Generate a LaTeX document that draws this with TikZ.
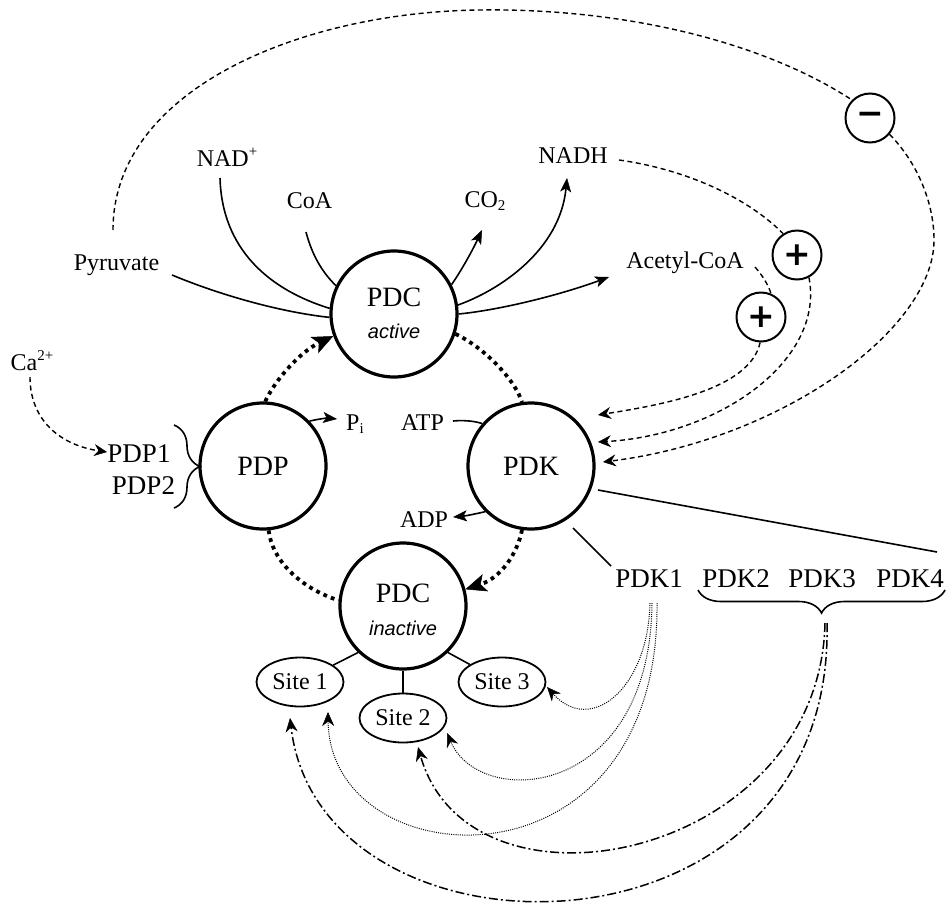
\documentclass[tikz,border=0pt]{standalone}
\usepackage{fontspec}
\setmainfont{Liberation Serif}
\newfontfamily\arialfont{Liberation Sans}
\newfontfamily\signfont{DejaVu Sans}
\usetikzlibrary{arrows.meta,calc,decorations.pathreplacing,shapes.geometric}
\newcommand\mysup[1]{\raisebox{10pt}{\fontsize{15}{15}\selectfont #1}}
\newcommand\mysub[1]{\raisebox{-3pt}{\fontsize{15}{15}\selectfont #1}}
\begin{document}
\begin{tikzpicture}[x=1pt,y=-1pt,
  lab/.style={font=\fontsize{24}{28}\selectfont, inner sep=0pt, anchor=base},
  big/.style={font=\fontsize{27}{30}\selectfont, inner sep=0pt, anchor=base},
  ctext/.style={font=\fontsize{28}{30}\selectfont, inner sep=0pt, anchor=base},
  itx/.style={font=\arialfont\itshape\fontsize{20}{24}\selectfont, inner sep=0pt, anchor=base},
  enz/.style={circle, draw, line width=3.2pt, minimum size=126pt, inner sep=0pt, font=\fontsize{28}{30}\selectfont},
  site/.style={ellipse, draw, line width=1.8pt, minimum width=87pt, minimum height=49pt, inner sep=0pt, font=\fontsize{24}{28}\selectfont},
  sign/.style={circle, draw, line width=2pt, minimum size=49pt, inner sep=0pt, font=\signfont\bfseries\fontsize{33}{33}\selectfont},
  conn/.style={line width=1.6pt},
  dsh/.style={line width=1.4pt, dash pattern=on 5pt off 3.5pt},
  thickdot/.style={line width=3.8pt, dash pattern=on 3.8pt off 4.2pt},
  fine/.style={line width=1pt, dash pattern=on 1pt off 1.2pt},
  dashdot/.style={line width=1.5pt, dash pattern=on 9pt off 3pt on 2pt off 3pt},
  stip/.style={-{Stealth[length=14pt, width=11pt, inset=3.5pt, line width=0.5pt]}},
  dtip/.style={-{Stealth[length=13pt, width=12pt, inset=4.5pt, line width=0.5pt]}},
  bigtip/.style={-{Stealth[length=21pt, width=18pt, inset=5pt, line width=0.5pt]}},
  sitetip/.style={-{Stealth[length=14pt, width=12pt, inset=4.5pt, line width=0.5pt]}}
]
\useasboundingbox (0,0) rectangle (952,905);

% enzymes / complexes
\node[enz] (pdca) at (394,314) {};
\node[ctext] (pdcat) at (394,306) {PDC};
\node[itx] (act) at (394,338) {active};
\node[enz] (pdp) at (263,466) {PDP};
\node[enz] (pdk) at (531,466) {PDK};
\node[enz] (pdci) at (403,606) {};
\node[ctext] (pdcit) at (403,602) {PDC};
\node[itx] (inact) at (403,635) {inactive};

% sites
\node[site] (site1) at (300,682) {Site 1};
\node[site] (site2) at (403,718) {Site 2};
\node[site] (site3) at (502,682) {Site 3};

% effector signs
\node[sign] (plus1) at (797,255) {+};
\node[sign] (plus2) at (761,317) {+};
\node[sign] (minus) at (870,118) {−};

% labels
\node[lab] (pyr) at (116.5,270) {Pyruvate};
\node[lab] (nad) at (227,166) {NAD\mysup{+}};
\node[lab] (coa) at (309.5,208) {CoA};
\node[lab] (co2) at (485,207) {CO\mysub{2}};
\node[lab] (nadh) at (573,163) {NADH};
\node[lab] (acoa) at (685,268) {Acetyl-CoA};
\node[lab] (ca) at (32,370) {Ca\mysup{2+}};
\node[big] (pdp1) at (139,462) {PDP1};
\node[big] (pdp2) at (143.5,494) {PDP2};
\node[lab] (pi) at (355,430) {P\mysub{i}};
\node[lab] (atp) at (422.5,430) {ATP};
\node[lab] (adp) at (424,527) {ADP};
\node[big] (pdk1) at (649,587) {PDK1};
\node[big] (pdk2) at (736,587) {PDK2};
\node[big] (pdk3) at (822,587) {PDK3};
\node[big] (pdk4) at (910,587) {PDK4};

% braces
\draw[conn, decorate, decoration={brace, amplitude=26pt}] (174,425) -- (174,508);
\draw[conn, decorate, decoration={brace, amplitude=23pt, mirror}] (698,590) -- (945,590);

% substrates and products of PDC
\draw[conn] ($(pyr.base)+(55.5,5)$) .. controls (220,295) and (280,312) .. (pdca.183);
\draw[conn] ($(nad.base)+(-7,12)$) .. controls (222,250) and (270,290) .. (pdca.175);
\draw[conn] ($(coa.base)+(-3.5,24)$) .. controls (312,255) and (322,272) .. (pdca.154);
\draw[conn, stip] (pdca.27) .. controls (465,265) and (475,245) .. ($(co2.base)+(-3,23)$);
\draw[conn, stip] (pdca.8) .. controls (500,290) and (560,250) .. ($(nadh.base)+(-6,15)$);
\draw[conn, stip] (pdca.0) .. controls (500,310) and (560,295) .. ($(acoa.base)+(-76,9)$);

% PDP / PDK side reactions
\draw[conn, stip] (pdp.44) .. controls (318,419) and (328,418) .. ($(pi.base)+(-18,-11)$);
\draw[conn] ($(atp.base)+(30.5,-9)$) .. controls (463,420) and (475,421) .. (pdk.139);
\draw[conn, stip] (pdk.225) .. controls (475,514) and (465,516) .. ($(adp.base)+(29,-10)$);

% interconversion cycle
\draw[thickdot, bigtip] (pdp.88) .. controls (275,380) and (300,352) .. (pdca.200);
\draw[thickdot] (pdca.-18) .. controls (485,348) and (515,380) .. (pdk.98);
\draw[thickdot, bigtip] (pdk.-98) .. controls (517,555) and (500,578) .. (pdci.15);
\draw[thickdot] (pdp.-85) .. controls (272,560) and (300,588) .. (pdci.175);

% sites
\draw[conn] (pdci.-134) -- (site1);
\draw[conn] (pdci.-90) -- (site2);
\draw[conn] (pdci.-46) -- (site3);

% calcium
\draw[dsh, dtip] ($(ca.base)+(-2,7)$) .. controls (30,420) and (60,445) .. ($(pdp1.base)+(-32,-10)$);

% regulation of PDK
\draw[dsh] ($(pyr.base)+(-3.5,-40)$) .. controls (113,90) and (300,12) .. (480,10)
  .. controls (620,8) and (760,40) .. (minus.135);
\draw[dsh, dtip] (minus.-40) .. controls (915,160) and (934,200) .. (934,240)
  .. controls (934,330) and (780,440) .. ($(pdk)+(72,-4)$);
\draw[dsh] ($(nadh.base)+(46,-3)$) .. controls (690,170) and (750,200) .. (plus1.123);
\draw[dsh, dtip] (plus1.-62) .. controls (825,360) and (720,435) .. ($(pdk)+(67,-24)$);
\draw[dsh] ($(acoa.base)+(70,-1)$) .. controls (762,275) and (768,284) .. (plus2.67);
\draw[dsh, dtip] (plus2.-92) .. controls (750,390) and (660,405) .. ($(pdk)+(67,-51)$);

% isoforms
\draw[conn] ($(pdk)+(67,24)$) -- ($(pdk4.base)+(27,-35)$);
\draw[conn] ($(pdk)+(42,62)$) -- ($(pdk1.base)+(-38,-21)$);

% site specificity
\draw[fine, sitetip] ($(pdk1.base)+(1,16)$) .. controls (648,690) and (590,735) .. ($(site3)+(45,5)$);
\draw[fine, sitetip] ($(pdk1.base)+(3,16)$) .. controls (650,800) and (480,810) .. ($(site2)+(44,15)$);
\draw[fine, sitetip] ($(pdk1.base)+(8,16)$) .. controls (660,900) and (330,880) .. ($(site1)+(28,30)$);
\draw[dashdot, sitetip] ($(pdk3.base)+(3,36)$) .. controls (820,860) and (470,930) .. ($(site2)+(15,29)$);
\draw[dashdot, sitetip] ($(pdk3.base)+(5,36)$) .. controls (835,975) and (320,975) .. ($(site1)+(-10,36)$);
\end{tikzpicture}
\end{document}
